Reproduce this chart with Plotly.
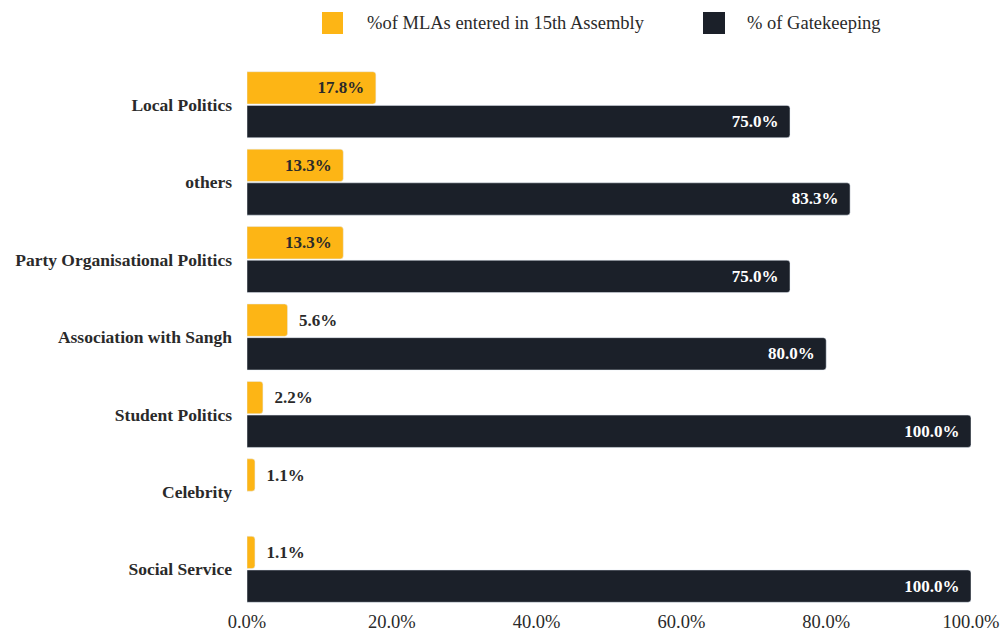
import plotly.graph_objects as go

categories = [
    "Local Politics",
    "others",
    "Party Organisational Politics",
    "Association with Sangh",
    "Student Politics",
    "Celebrity",
    "Social Service",
]
mla_share = [17.8, 13.3, 13.3, 5.6, 2.2, 1.1, 1.1]
gatekeeping = [75.0, 83.3, 75.0, 80.0, 100.0, None, 100.0]
tick_values = [0, 20, 40, 60, 80, 100]
series_names = ["%of MLAs entered in 15th Assembly", "% of Gatekeeping"]

YELLOW = "#FDB515"
DARK = "#1B2029"
TEXT = "#2a2a2a"
FONT = "Liberation Serif"
NBSP = "\u00a0"

W, H = 1004, 635
M = dict(l=247, r=33, t=66, b=27)
PW, PH = W - M["l"] - M["r"], H - M["t"] - M["b"]


def px_x(x):
    return (x - M["l"]) / PW


def px_y(y):
    return (H - M["b"] - y) / PH


# short bars carry their label outside
mla_pos = ["inside" if v >= 10 else "outside" for v in mla_share]
mla_tpl = ["%{x:.1f}%" + NBSP * 2 if p == "inside" else NBSP * 2 + "%{x:.1f}%"
           for p in mla_pos]

fig = go.Figure()
fig.add_trace(go.Bar(
    y=categories, x=mla_share, orientation="h",
    name=series_names[0],
    marker=dict(color=YELLOW, cornerradius=3),
    texttemplate=mla_tpl, textposition=mla_pos,
    insidetextanchor="end",
    insidetextfont=dict(family=FONT, size=17, color=TEXT, weight="bold"),
    outsidetextfont=dict(family=FONT, size=17, color=TEXT, weight="bold"),
    cliponaxis=False,
))
fig.add_trace(go.Bar(
    y=categories, x=gatekeeping, orientation="h",
    name=series_names[1],
    marker=dict(color=DARK, cornerradius=3),
    texttemplate="%{x:.1f}%" + NBSP * 2, textposition="inside",
    insidetextanchor="end",
    insidetextfont=dict(family=FONT, size=17, color="white", weight="bold"),
    cliponaxis=False,
))

# legend drawn as swatches + labels above the plot
legend_items = [(322, 343, 365, YELLOW), (703, 725, 745, DARK)]
shapes, annotations = [], []
for (sx0, sx1, tx, col), name in zip(legend_items, series_names):
    shapes.append(dict(
        type="rect", xref="paper", yref="paper",
        x0=px_x(sx0), x1=px_x(sx1), y0=px_y(34), y1=px_y(12),
        fillcolor=col, line=dict(width=0),
    ))
    annotations.append(dict(
        text=name, xref="paper", yref="paper",
        x=px_x(tx), y=px_y(23), xanchor="left", yanchor="middle",
        showarrow=False, font=dict(family=FONT, size=18.5, color=TEXT),
    ))

fig.update_layout(
    width=W, height=H,
    margin=M,
    paper_bgcolor="white", plot_bgcolor="white",
    barmode="group", bargap=0.13, bargroupgap=0.04,
    font=dict(family=FONT, size=16, color=TEXT),
    showlegend=False,
    shapes=shapes, annotations=annotations,
)
fig.update_xaxes(
    range=[0, 100], tickvals=tick_values,
    ticktext=[f"{v:.1f}%" for v in tick_values],
    showgrid=False, zeroline=False, showline=False, ticks="",
    automargin=False,
    tickfont=dict(family=FONT, size=18.5, color=TEXT),
)
fig.update_yaxes(
    autorange="reversed", showgrid=False, showline=False, ticks="",
    automargin=False,
    ticklabelstandoff=14,
    tickfont=dict(family=FONT, size=17.5, color=TEXT, weight="bold"),
)

fig.write_html("out.html")
